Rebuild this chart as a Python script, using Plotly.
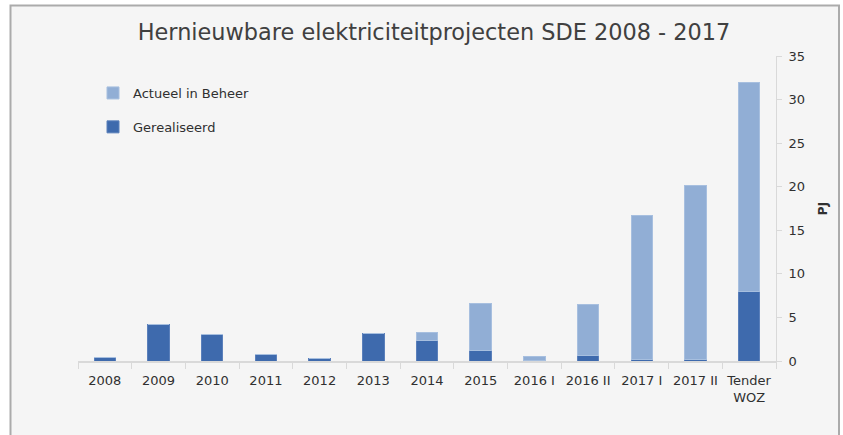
import plotly.graph_objects as go

categories = ["2008", "2009", "2010", "2011", "2012", "2013", "2014", "2015",
              "2016 I", "2016 II", "2017 I", "2017 II", "Tender<br>WOZ"]
gerealiseerd = [0.4, 4.2, 3.0, 0.7, 0.25, 3.1, 2.35, 1.15, 0.05, 0.6, 0.2, 0.2, 7.95]
actueel_extra = [0.0, 0.0, 0.0, 0.0, 0.0, 0.0, 0.9, 5.45, 0.45, 5.85, 16.5, 19.9, 24.05]

DARK = "#3e6aad"
LIGHT = "#91aed5"

W, H = 843, 435
L, R, T, B = 78, 67, 56, 74
pw, ph = W - L - R, H - T - B

fig = go.Figure()
fig.add_trace(go.Bar(x=categories, y=gerealiseerd, name="Gerealiseerd",
                     marker=dict(color=DARK, line=dict(color="#5b80bb", width=1)),
                     legendgroup="g", legendrank=2))
fig.add_trace(go.Bar(x=categories, y=actueel_extra, name="Actueel in Beheer",
                     marker=dict(color=LIGHT, line=dict(color="#a7bfdf", width=1)),
                     legendgroup="a", legendrank=1))

def px_x(x):
    return (x - L) / pw

def px_y(y):
    return (H - B - y) / ph

fig.add_shape(type="rect", xref="paper", yref="paper",
              x0=px_x(10.5), x1=px_x(839), y0=px_y(470), y1=px_y(5.5),
              line=dict(color="#ababab", width=2), fillcolor="#f5f5f5", layer="below")

fig.update_layout(
    width=W, height=H,
    margin=dict(l=L, r=R, t=T, b=B),
    paper_bgcolor="white",
    plot_bgcolor="rgba(0,0,0,0)",
    barmode="stack",
    bargap=0.6,
    title=dict(text="Hernieuwbare elektriciteitprojecten SDE 2008 - 2017",
               xref="container", x=434 / W, xanchor="center",
               y=1 - 32 / H, yanchor="middle",
               font=dict(family="DejaVu Sans", size=22.4, color="#404040")),
    font=dict(family="DejaVu Sans", size=13, color="#404040"),
    showlegend=True,
    legend=dict(x=px_x(93), y=px_y(78), xanchor="left", yanchor="top",
                traceorder="grouped", tracegroupgap=14,
                bgcolor="rgba(0,0,0,0)",
                font=dict(family="DejaVu Sans", size=13, color="#303030"),
                itemwidth=30),
    xaxis=dict(type="category", showline=True, linecolor="#d9d9d9", linewidth=2,
               ticks="outside", tickson="boundaries", ticklen=6, tickcolor="#d9d9d9",
               tickwidth=1, showgrid=False, ticklabelstandoff=6, tickangle=0,
               tickfont=dict(size=13, color="#303030"), fixedrange=True),
    yaxis=dict(side="right", range=[0, 35], dtick=5, showline=True,
               linecolor="#d9d9d9", linewidth=1, ticks="outside", ticklen=5,
               tickcolor="#d9d9d9", showgrid=False, zeroline=False,
               ticklabelstandoff=4, fixedrange=True,
               tickfont=dict(size=13, color="#303030"),
               title=dict(text="<b>PJ</b>", font=dict(size=12, color="#303030"),
                          standoff=14)),
)

fig.write_html("out.html", config={"displayModeBar": False},
               post_script="document.body.style.margin='0px';")
